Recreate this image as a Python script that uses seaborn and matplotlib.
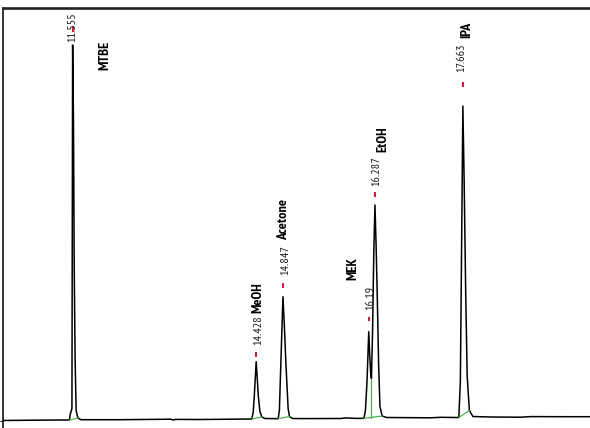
import matplotlib
matplotlib.use("Agg")
import matplotlib.pyplot as plt
from matplotlib import font_manager
import numpy as np
import pandas as pd
import seaborn as sns

# ---------------- data ----------------
peak_names = ["MTBE", "MeOH", "Acetone", "MEK", "EtOH", "IPA"]
peak_rt = [11.555, 14.428, 14.847, 16.19, 16.287, 17.663]
peak_rt_labels = ["11.555", "14.428", "14.847", "16.19", "16.287", "17.663"]
peak_height = [375.5, 58.8, 123.8, 88.8, 215.5, 314.5]

trace_time = [
    10.465, 10.90, 11.37,
    11.505, 11.517, 11.544, 11.555, 11.568, 11.580, 11.594, 11.610, 11.638, 11.685,
    12.307, 13.090, 13.130, 13.168, 13.560, 14.186,
    14.358, 14.381, 14.397, 14.428, 14.447, 14.462, 14.486, 14.517, 14.564,
    14.772, 14.791, 14.808, 14.847, 14.872, 14.891, 14.910, 14.928, 14.949, 14.996,
    15.126, 15.752, 15.831, 15.987,
    16.115, 16.138, 16.162, 16.190, 16.205, 16.220, 16.232, 16.250, 16.268, 16.287,
    16.305, 16.323, 16.345, 16.365, 16.400, 16.470,
    16.692, 17.162, 17.319, 17.554,
    17.600, 17.624, 17.647, 17.663, 17.683, 17.707, 17.730, 17.765, 17.820,
    18.102, 18.572, 18.729, 19.198, 19.653,
]
trace_signal = [
    0.0, 0.3, 0.5,
    0.5, 6.0, 12.0, 375.5, 300.0, 150.0, 60.0, 10.0, 2.5, 0.8,
    0.8, 1.3, 0.5, 1.1, 1.0, 1.4,
    1.5, 8.0, 23.0, 58.8, 40.0, 24.0, 9.0, 3.5, 2.0,
    1.8, 10.0, 45.0, 123.8, 90.0, 60.0, 35.0, 12.0, 4.0, 2.0,
    1.9, 2.0, 2.6, 2.1,
    2.2, 10.0, 38.0, 88.8, 65.0, 48.0, 42.0, 90.0, 165.0, 215.5,
    175.0, 125.0, 55.0, 14.0, 4.5, 3.0,
    2.9, 2.7, 3.2, 3.0,
    3.0, 40.0, 200.0, 314.5, 240.0, 130.0, 45.0, 10.0, 4.0,
    3.5, 3.3, 3.9, 3.8, 3.8,
]

# integration (green) baseline segments and drop line
int_start = [11.505, 14.358, 14.772, 16.115, 17.600]
int_start_val = [0.5, 1.5, 1.8, 2.2, 3.0]
int_end = [11.638, 14.517, 14.949, 16.400, 17.765]
int_end_val = [2.5, 3.5, 4.0, 4.5, 10.0]
drop_time = [16.232]
drop_top = [42.0]

# ---------------- layout / style ----------------
X_LIM = (10.465, 19.653)
Y_LIM = (-7.5, 412.5)
# red marker (bottom, top) above apex, in signal units
dash_span = [(13, 19), (4.7, 9.7), (8.7, 13.7), (10.7, 14.7), (8, 13), (19, 24)]
# label offsets in pixels from apex: (dx, dy) for the time label, then for the name
time_off = [(-0.6, 3), (1.8, 16.7), (2.1, 21.7), (1.3, 21.7), (1.5, 19), (-1.3, 34)]
name_off = [(32.4, -25), (1.8, 48.7), (0.6, 56.7), (-16.2, 51.7), (8, 53), (4.2, 68)]

sns.set_style("white")

fonts = font_manager.fontManager.ttflist
def has_bold(name):
    return any(f.name == name and (f.weight in ("bold", "semibold", "heavy", "black") or
               (isinstance(f.weight, int) and f.weight >= 600)) for f in fonts)

available = {f.name for f in fonts}
candidates = ["Arial Narrow", "Liberation Sans Narrow", "PT Sans Narrow", "Archivo Narrow",
              "Roboto Condensed", "Fira Sans Condensed", "Barlow Condensed",
              "Asap Condensed", "IBM Plex Sans Condensed", "Encode Sans Condensed"]
FAM_REG = ["DejaVu Sans"]
for cand in candidates:
    if cand in available:
        FAM_REG = [cand, "DejaVu Sans"]
        break
FAM_BOLD = FAM_REG
for cand in candidates:
    if cand in available and has_bold(cand):
        FAM_BOLD = [cand, "DejaVu Sans"]
        break
plt.rcParams["font.family"] = FAM_REG

fig = plt.figure(figsize=(5.90, 4.28), dpi=100)
ax = fig.add_axes([3 / 590, 0.0, 587 / 590, 420 / 428])

df = pd.DataFrame({"time": trace_time, "signal": trace_signal})
sns.lineplot(data=df, x="time", y="signal", sort=False, estimator=None,
             color="black", lw=1.1, ax=ax)

green = "#4caf50"
for t0, v0, t1, v1 in zip(int_start, int_start_val, int_end, int_end_val):
    ax.plot([t0, t1], [v0, v1], color=green, lw=0.9, zorder=3)
for t, v in zip(drop_time, drop_top):
    ax.plot([t, t], [2.4, v], color=green, lw=0.9, zorder=1)

for i, (rt, h) in enumerate(zip(peak_rt, peak_height)):
    a, b = dash_span[i]
    ax.plot([rt, rt], [h + a, h + b], color="#d01c3c", lw=1.5, zorder=2,
            solid_capstyle="butt")
    ax.annotate(peak_rt_labels[i], xy=(rt, h), xytext=time_off[i],
                textcoords="offset pixels", rotation=90, ha="center", va="bottom",
                fontsize=8.7, color="#1a1a1a", family=FAM_REG, zorder=4)
    ax.annotate(peak_names[i], xy=(rt, h), xytext=name_off[i],
                textcoords="offset pixels", rotation=90, ha="center", va="bottom",
                fontsize=10.3, fontweight="bold", color="black", family=FAM_BOLD,
                zorder=4)

ax.set_xlim(*X_LIM)
ax.set_ylim(*Y_LIM)
ax.set_xlabel("")
ax.set_ylabel("")
ax.set_xticks([])
ax.set_yticks([0])
ax.set_yticklabels([])
ax.tick_params(axis="y", direction="out", length=2.2, width=0.8, color="black", left=True)

for side in ["right", "bottom"]:
    ax.spines[side].set_visible(False)
ax.spines["top"].set_linewidth(1.9)
ax.spines["top"].set_color("#222222")
ax.spines["left"].set_linewidth(1.1)
ax.spines["left"].set_color("black")

fig.savefig("out.png", dpi=100, facecolor="white")
